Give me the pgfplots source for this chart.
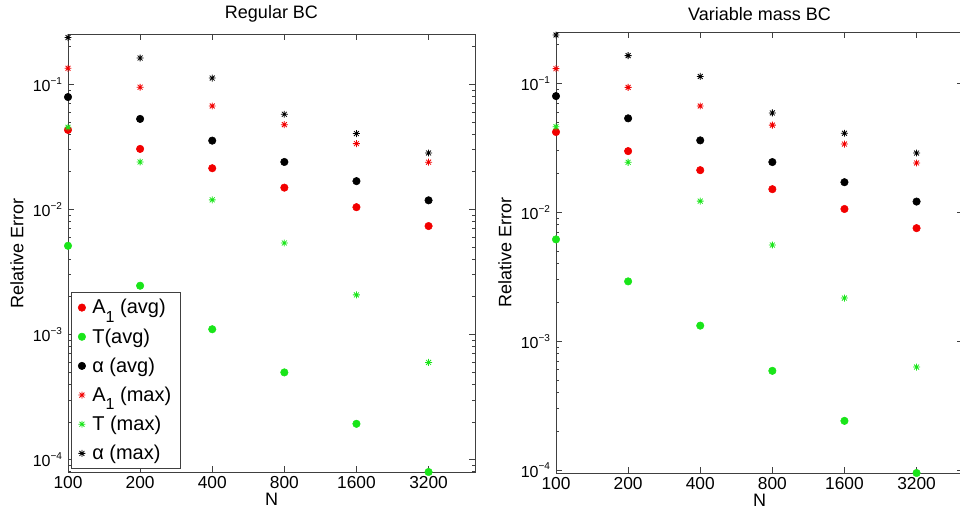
\documentclass[border=0pt]{standalone}
\usepackage{pgfplots}
\pgfplotsset{compat=1.18}
\usepackage{fontspec}
\setmainfont{Liberation Sans}

\definecolor{mgreen}{rgb}{0.1,0.9,0.1}
\definecolor{mred}{rgb}{0.95,0,0}

% matlab-like '*' marker (8 spokes)
\pgfdeclareplotmark{mstar}{%
  \pgfpathmoveto{\pgfqpoint{-\pgfplotmarksize}{0pt}}\pgfpathlineto{\pgfqpoint{\pgfplotmarksize}{0pt}}%
  \pgfpathmoveto{\pgfqpoint{0pt}{-\pgfplotmarksize}}\pgfpathlineto{\pgfqpoint{0pt}{\pgfplotmarksize}}%
  \pgfpathmoveto{\pgfqpoint{-.707\pgfplotmarksize}{-.707\pgfplotmarksize}}\pgfpathlineto{\pgfqpoint{.707\pgfplotmarksize}{.707\pgfplotmarksize}}%
  \pgfpathmoveto{\pgfqpoint{-.707\pgfplotmarksize}{.707\pgfplotmarksize}}\pgfpathlineto{\pgfqpoint{.707\pgfplotmarksize}{-.707\pgfplotmarksize}}%
  \pgfusepathqstroke}

\newcommand\ex[1]{{\fontsize{12}{14}\selectfont 10}\raisebox{1.0ex}{\fontsize{7.5}{8}\selectfont −#1}}
\newcommand\sub[1]{\raisebox{-0.8ex}{\fontsize{12}{12}\selectfont #1}}
\newcommand\ttl[1]{\fontsize{13.5}{16}\selectfont #1}

\pgfplotsset{
  every axis/.append style={
    scale only axis, width=305.25pt,
    xmin=100, xmax=5000,
    xtick={100,200,400,800,1600,3200},
    xticklabels={100,200,400,800,1600,3200},
    minor xtick={},
    ytick={1e-4,1e-3,1e-2,1e-1},
    yticklabels={\ex{4},\ex{3},\ex{2},\ex{1}},
    minor ytick={8e-5,9e-5,2e-4,3e-4,4e-4,5e-4,6e-4,7e-4,8e-4,9e-4,
      2e-3,3e-3,4e-3,5e-3,6e-3,7e-3,8e-3,9e-3,
      2e-2,3e-2,4e-2,5e-2,6e-2,7e-2,8e-2,9e-2,2e-1},
    axis line style={black!75, line width=0.6pt},
    tick style={black!75, line width=0.5pt},
    major tick length=4.5pt, minor tick length=2.5pt,
    clip=false,
    xlabel={N}, ylabel={Relative Error},
  },
  avgmark/.style={only marks, mark=*, mark size=2.8pt},
  maxmark/.style={only marks, mark=mstar, mark size=2.6pt, line width=0.6pt},
}

\begin{document}
\begin{tikzpicture}
\path[use as bounding box] (0,0) rectangle (720pt,381.75pt);

\begin{loglogaxis}[
  log basis x=2,
  at={(51pt,27.75pt)}, anchor=south west, height=328.5pt,
  ymin=7.95e-5, ymax=0.252,
  title={\ttl{Regular BC}},
  title style={yshift=-1pt},
  xticklabel style={font=\fontsize{13}{15}\selectfont},
  yticklabel style={xshift=-1pt},
  label style={font=\fontsize{13.5}{16}\selectfont},
  xlabel style={yshift=3.5pt},
  legend style={at={(0.008,0.41)}, anchor=north west, draw=black!75,
    font=\fontsize{15}{17}\selectfont, row sep=5.5pt, inner xsep=5pt, inner ysep=3pt,
    column sep=3pt},
  legend cell align=left,
]
\addplot[avgmark, color=mred] coordinates {(100,0.0431) (200,0.0304) (400,0.0213) (800,0.0149) (1600,0.0104) (3200,0.00735)};
\addlegendentry{A\sub{1} (avg)}
\addplot[avgmark, color=mgreen] coordinates {(100,0.00511) (200,0.00245) (400,0.0011) (800,0.000497) (1600,0.000193) (3200,0.0000795)};
\addlegendentry{T(avg)}
\addplot[avgmark, color=black] coordinates {(100,0.079) (200,0.0528) (400,0.0354) (800,0.0239) (1600,0.0168) (3200,0.0118)};
\addlegendentry{α (avg)}
\addplot[maxmark, color=mred] coordinates {(100,0.134) (200,0.0946) (400,0.067) (800,0.0475) (1600,0.0335) (3200,0.0238)};
\addlegendentry{A\sub{1} (max)}
\addplot[maxmark, color=mgreen] coordinates {(100,0.0453) (200,0.0239) (400,0.0119) (800,0.00538) (1600,0.00207) (3200,0.000597)};
\addlegendentry{T (max)}
\addplot[maxmark, color=black] coordinates {(100,0.236) (200,0.162) (400,0.112) (800,0.0575) (1600,0.0403) (3200,0.0282)};
\addlegendentry{α (max)}
\end{loglogaxis}

\begin{loglogaxis}[
  log basis x=2,
  at={(417pt,27pt)}, anchor=south west, height=330.75pt,
  ymin=9.5e-5, ymax=0.25,
  title={\ttl{Variable mass BC}},
  title style={yshift=-1pt},
  xticklabel style={font=\fontsize{13}{15}\selectfont},
  yticklabel style={xshift=-1pt},
  label style={font=\fontsize{13.5}{16}\selectfont},
  xlabel style={yshift=3.5pt},
]
\addplot[avgmark, color=mred] coordinates {(100,0.0419) (200,0.0298) (400,0.0212) (800,0.0151) (1600,0.0106) (3200,0.00753)};
\addplot[avgmark, color=mgreen] coordinates {(100,0.00616) (200,0.00291) (400,0.00132) (800,0.000589) (1600,0.000241) (3200,0.000095)};
\addplot[avgmark, color=black] coordinates {(100,0.0796) (200,0.0535) (400,0.0361) (800,0.0245) (1600,0.0171) (3200,0.0121)};
\addplot[maxmark, color=mred] coordinates {(100,0.13) (200,0.093) (400,0.0667) (800,0.0474) (1600,0.0338) (3200,0.0241)};
\addplot[maxmark, color=mgreen] coordinates {(100,0.046) (200,0.0244) (400,0.0122) (800,0.00557) (1600,0.00216) (3200,0.00063)};
\addplot[maxmark, color=black] coordinates {(100,0.237) (200,0.164) (400,0.113) (800,0.0589) (1600,0.041) (3200,0.0288)};
\end{loglogaxis}
\end{tikzpicture}
\end{document}
